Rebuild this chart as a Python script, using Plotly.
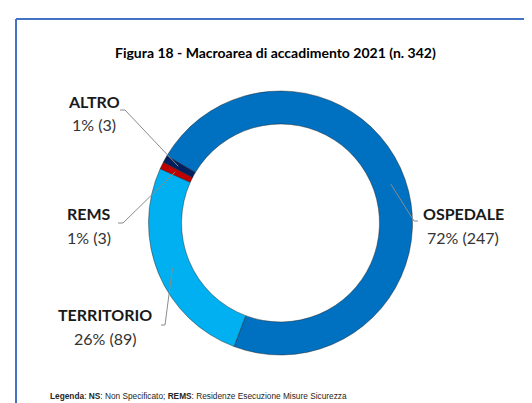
import math
import plotly.graph_objects as go

# ---- data ----
categories = ["OSPEDALE", "TERRITORIO", "REMS", "ALTRO"]
values = [247, 89, 3, 3]
pct_labels = ["72% (247)", "26% (89)", "1% (3)", "1% (3)"]
colors = ["#0070C0", "#00B0F0", "#C00000", "#002060"]
title_text = "Figura 18 - Macroarea di accadimento 2021 (n. 342)"

W, H = 532, 403
CX, CY, R = 272.5, 215.0, 132.0
START = 300.6  # degrees clockwise from 12 o'clock where first slice begins


def px(x):
    return x / W


def py(y):
    return 1 - y / H


fig = go.Figure(go.Pie(
    labels=categories,
    values=values,
    hole=0.75,
    sort=False,
    direction="clockwise",
    rotation=START,
    textinfo="none",
    hoverinfo="label+value+percent",
    marker=dict(colors=colors, line=dict(color="rgba(30,30,30,0.55)", width=0.8)),
    domain=dict(x=[px(CX - R), px(CX + R)], y=[py(CY + R), py(CY - R)]),
    showlegend=False,
))

# label positions (layout only)
label_pos = {
    "OSPEDALE": (455, 205, 229),
    "TERRITORIO": (97, 306, 330),
    "REMS": (81, 205, 229),
    "ALTRO": (86, 93, 116),
}
leader_start = {
    "OSPEDALE": ((410, 213), (406, 213)),
    "TERRITORIO": ((153, 317), (157, 317)),
    "REMS": ((110, 215), (115, 215)),
    "ALTRO": ((112, 102), (117, 102)),
}

annotations = []
shapes = []
total = sum(values)
acc = 0.0
for cat, v, pl in zip(categories, values, pct_labels):
    mid = START + 360.0 * (acc + v / 2) / total
    acc += v
    a = math.radians(mid)
    ex = CX + 117 * math.sin(a)
    ey = CY - 117 * math.cos(a)
    lx, ly1, ly2 = label_pos[cat]
    annotations.append(dict(x=px(lx), y=py(ly1), xref="paper", yref="paper",
                            text="<b>" + cat + "</b>", showarrow=False,
                            font=dict(family="Lato", size=16, color="#1a1a1a"),
                            xanchor="center", yanchor="middle"))
    annotations.append(dict(x=px(lx), y=py(ly2), xref="paper", yref="paper",
                            text=pl, showarrow=False,
                            font=dict(family="Lato", size=16, color="#333333"),
                            xanchor="center", yanchor="middle"))
    (x0, y0), (x1, y1) = leader_start[cat]
    for (ax, ay, bx, by) in [(x0, y0, x1, y1), (x1, y1, ex, ey)]:
        shapes.append(dict(type="line", xref="paper", yref="paper",
                           x0=px(ax), y0=py(ay), x1=px(bx), y1=py(by),
                           line=dict(color="#8c8c8c", width=1)))

# title
annotations.append(dict(x=px(267), y=py(44), xref="paper", yref="paper",
                        text="<b>" + title_text + "</b>", showarrow=False,
                        font=dict(family="Lato", size=14, color="#000000"),
                        xanchor="center", yanchor="middle"))
# footnote legend
annotations.append(dict(x=px(40), y=py(388), xref="paper", yref="paper",
                        text="<b>Legenda</b>: <b>NS</b>: Non Specificato; <b>REMS</b>: Residenze Esecuzione Misure Sicurezza",
                        showarrow=False,
                        font=dict(family="Liberation Sans, Arial", size=8.3, color="#262626"),
                        xanchor="left", yanchor="middle"))

# frame border (top and left visible)
shapes.append(dict(type="line", xref="paper", yref="paper", x0=px(8), y0=py(11), x1=1.01, y1=py(11),
                   line=dict(color="#4472C4", width=2)))
shapes.append(dict(type="line", xref="paper", yref="paper", x0=px(8), y0=py(11), x1=px(8), y1=-0.01,
                   line=dict(color="#4472C4", width=2)))

fig.update_layout(
    width=W, height=H,
    margin=dict(l=0, r=0, t=0, b=0),
    paper_bgcolor="white",
    plot_bgcolor="white",
    annotations=annotations,
    shapes=shapes,
)

fig.write_html("out.html")
